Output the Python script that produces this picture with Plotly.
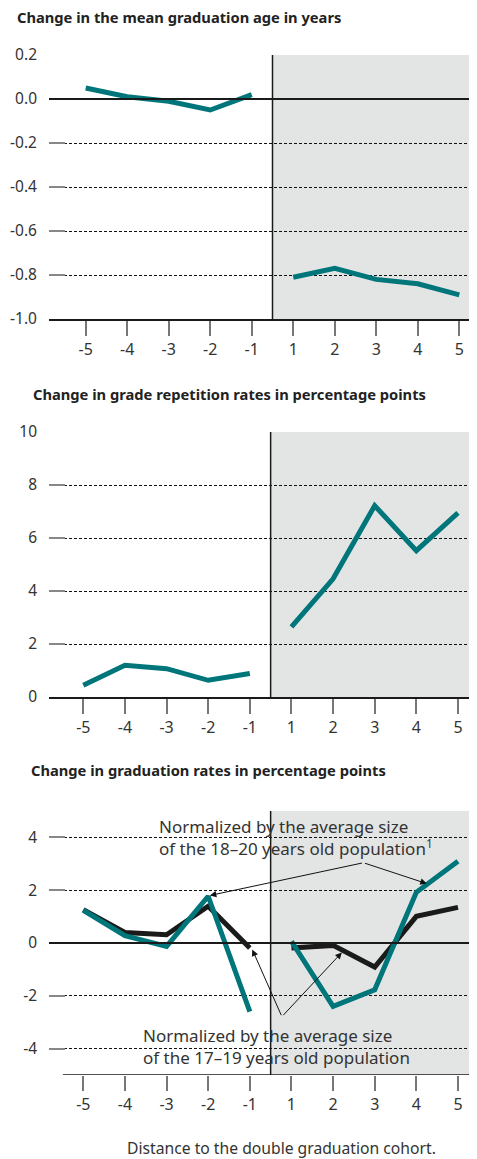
import plotly.graph_objects as go

# distance to the double graduation cohort
distance = ["-5", "-4", "-3", "-2", "-1", "1", "2", "3", "4", "5"]

# change in the mean graduation age (years)
grad_age = [0.05, 0.01, -0.01, -0.05, 0.02, -0.81, -0.77, -0.82, -0.84, -0.89]
age_ticks = [0.2, 0.0, -0.2, -0.4, -0.6, -0.8, -1.0]
age_labels = ["0.2", "0.0", "-0.2", "-0.4", "-0.6", "-0.8", "-1.0"]

# change in grade repetition rates (percentage points)
repetition = [0.44, 1.20, 1.07, 0.63, 0.89, 2.65, 4.46, 7.22, 5.52, 6.95]
rep_ticks = [0, 2, 4, 6, 8, 10]
rep_labels = ["0", "2", "4", "6", "8", "10"]

# change in graduation rates (percentage points)
grad_rate_17_19 = [1.26, 0.40, 0.31, 1.39, -0.19, -0.19, -0.09, -0.91, 1.01, 1.35]
grad_rate_18_20 = [1.24, 0.28, -0.13, 1.77, -2.60, 0.06, -2.40, -1.77, 1.92, 3.10]
rate_ticks = [-4, -2, 0, 2, 4]
rate_labels = ["-4", "-2", "0", "2", "4"]

TEAL = "#00767b"
DARK = "#1a1a1a"
SHADE = "#e3e5e4"
TXT = "#333333"

# the page body has an 8px margin, so figure coords = page coords - 8
OFF = 8
W, H = 477, 1159 - OFF
L = 49 - OFF
PW = W - L

xs = list(range(len(distance)))
pre = slice(0, 5)
post = slice(5, 10)


def dom(top_px, bot_px):
    return [1 - (bot_px - OFF) / H, 1 - (top_px - OFF) / H]


def px(xp):
    return (xp - OFF - L) / PW


def py(yp):
    return 1 - (yp - OFF) / H


fig = go.Figure()


def add_split(vals, xa, ya, color, width):
    # before and after the double cohort are drawn as separate segments
    for s in (pre, post):
        fig.add_trace(go.Scatter(x=xs[s], y=vals[s], mode="lines",
                                 line=dict(color=color, width=width),
                                 xaxis=xa, yaxis=ya, showlegend=False,
                                 hoverinfo="skip"))


add_split(grad_age, "x", "y", TEAL, 5)
add_split(repetition, "x2", "y2", TEAL, 5)
add_split(grad_rate_17_19, "x3", "y3", DARK, 5)
add_split(grad_rate_18_20, "x3", "y3", TEAL, 5)

xcommon = dict(tickmode="array", tickvals=xs, ticktext=distance, automargin=False,
               ticks="outside", ticklen=15, tickwidth=2, tickcolor="#777",
               showgrid=False, zeroline=False,
               tickfont=dict(family="Noto Sans", size=16, color=TXT))
ycommon = dict(tickmode="array", automargin=False,
               ticks="inside", ticklen=16, tickwidth=2, tickcolor="#888",
               showgrid=True, gridcolor="#111", griddash="3px,2px", gridwidth=1,
               tickfont=dict(family="Noto Sans", size=15.5, color=TXT),
               zeroline=False, showline=False, ticklabelstandoff=11)

# tick -5 / step in page pixels -> axis ranges
r1 = [-(85.7 - 49) / 41.51, (W + OFF - 85.7) / 41.51]
r2 = [-(83.3 - 49) / 41.63, (W + OFF - 83.3) / 41.63]

fig.update_layout(
    template="none",
    width=W, height=H,
    margin=dict(l=L, r=0, t=0, b=0),
    plot_bgcolor="white", paper_bgcolor="white",
    xaxis=dict(domain=[0, 1], range=r1, anchor="y", showline=True,
               linecolor=DARK, linewidth=1.5, **xcommon),
    yaxis=dict(domain=dom(55, 319), range=[-1.0, 0.2], anchor="x",
               tickvals=age_ticks, ticktext=age_labels, **ycommon),
    xaxis2=dict(domain=[0, 1], range=r2, anchor="y2", showline=True,
                linecolor=DARK, linewidth=1.5, **xcommon),
    yaxis2=dict(domain=dom(432, 697), range=[0, 10], anchor="x2",
                tickvals=rep_ticks, ticktext=rep_labels, **ycommon),
    xaxis3=dict(domain=[0, 1], range=r2, anchor="y3", showline=False, **xcommon),
    yaxis3=dict(domain=dom(811, 1075), range=[-5, 5], anchor="x3",
                tickvals=rate_ticks, ticktext=rate_labels, **ycommon),
)

# shaded area after the double cohort, vertical divider and zero lines
for xa, ya, rng, bot, top in (("x", "y", r1, -1.0, 0.2), ("x2", "y2", r2, 0, 10),
                              ("x3", "y3", r2, -5, 5)):
    fig.add_shape(type="rect", xref=xa, yref=ya, x0=4.5, x1=rng[1], y0=bot, y1=top,
                  fillcolor=SHADE, line_width=0, layer="below")
    fig.add_shape(type="line", xref=xa, yref=ya, x0=4.5, x1=4.5, y0=bot, y1=top,
                  line=dict(color=DARK, width=1.5))
for xa, ya, rng in (("x", "y", r1), ("x3", "y3", r2)):
    fig.add_shape(type="line", xref=xa, yref=ya, x0=rng[0], x1=rng[1], y0=0, y1=0,
                  line=dict(color=DARK, width=2))
# bottom axis line of the last panel starts a little to the right
fig.add_shape(type="line", xref="x3", yref="y3", x0=-0.49, x1=r2[1], y0=-5, y1=-5,
              line=dict(color=DARK, width=1.5))

# titles
titles = [("Change in the mean graduation age in years", 15, 17),
          ("Change in grade repetition rates in percentage points", 31, 394),
          ("Change in graduation rates in percentage points", 29, 770)]
for t, xp, yp in titles:
    fig.add_annotation(text="<b>" + t + "</b>", xref="paper", yref="paper",
                       x=px(xp), y=py(yp), xanchor="left", yanchor="middle",
                       showarrow=False, font=dict(family="Noto Sans", size=14.7, color="#222"))

# labels for the two graduation-rate series
lab = dict(family="Noto Sans", size=17, color=TXT)
fig.add_annotation(text="Normalized by the average size<br>of the 18\u201320 years old population<sup>1</sup>",
                   xref="x3", yref="y3", x=(157 - 83.3) / 41.63, y=(943.3 - 838) / 26.35,
                   xanchor="left", yanchor="middle", align="left", showarrow=False, font=lab)
fig.add_annotation(text="Normalized by the average size<br>of the 17\u201319 years old population",
                   xref="x3", yref="y3", x=(141 - 83.3) / 41.63, y=(943.3 - 1047) / 26.35,
                   xanchor="left", yanchor="middle", align="left", showarrow=False, font=lab)

arrows = [((6.73, 3.04), (3.04, 1.80)), ((6.73, 3.04), (8.25, 2.25)),
          ((4.77, -2.79), (4.06, -0.25)), ((4.77, -2.79), (6.21, -0.36))]
for (vx, vy), (tx, ty) in arrows:
    fig.add_annotation(xref="x3", yref="y3", axref="x3", ayref="y3",
                       x=tx, y=ty, ax=vx, ay=vy, text="", showarrow=True,
                       arrowhead=2, arrowsize=1.3, arrowwidth=1, arrowcolor="#111")

fig.add_annotation(text="Distance to the double graduation cohort.", xref="paper", yref="paper",
                   x=px(281), y=py(1148), xanchor="center", yanchor="middle",
                   showarrow=False, font=dict(family="Noto Sans", size=15.7, color=TXT))

fig.write_html("out.html")
